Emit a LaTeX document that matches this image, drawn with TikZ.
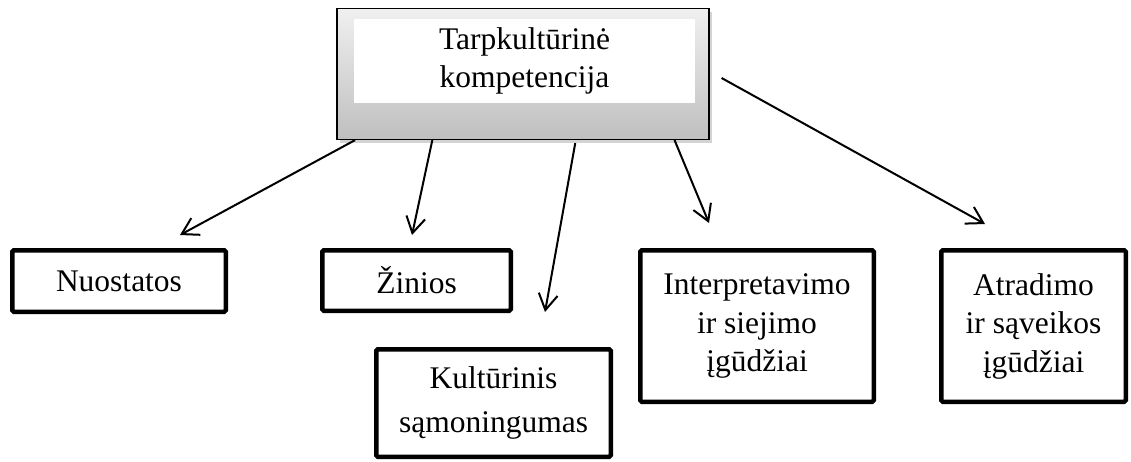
\documentclass[tikz,border=0pt]{standalone}
\usepackage{fontspec}
\setmainfont{Liberation Serif}
\usetikzlibrary{arrows.meta,shadows,calc,positioning}

\begin{document}
\begin{tikzpicture}[x=1pt,y=-1pt,>={Straight Barb[length=16pt,width=19pt]},
    font=\fontsize{31.5}{38.5}\selectfont,
    skill node/.style={draw,line width=4.5pt,rounded corners=1.5pt,align=center,inner sep=0pt},
    top node/.style={draw,line width=1.2pt,top color=gray!12,bottom color=gray!50,
        drop shadow={shadow xshift=3pt,shadow yshift=-3pt,opacity=0.35},
        minimum width=372pt,minimum height=131pt},
    title node/.style={fill=white,minimum width=341pt,minimum height=84pt,align=center,inner sep=0pt},
    link/.style={->,line width=2pt}]

    \useasboundingbox (0,0) rectangle (1131,461);

    % main box
    \node[top node] (top) at (523,74) {};
    \node[title node] (title) at (524.5,61) {Tarpkultūrinė\\kompetencija};

    % components
    \node[skill node,minimum width=213.5pt,minimum height=61.5pt] (nuo) at (119,281) {Nuostatos};
    \node[skill node,minimum width=188.5pt,minimum height=60.5pt] (zin) at (416.5,280.5) {Žinios};
    \node[skill node,minimum width=234.5pt,minimum height=107.5pt] (kul) at (493.5,403) {Kultūrinis\\[5pt]sąmoningumas};
    \node[skill node,minimum width=233.5pt,minimum height=151.5pt] (int) at (757,326) {Interpretavimo\\ir siejimo\\įgūdžiai};
    \node[skill node,minimum width=184.5pt,minimum height=151.5pt] (atr) at (1033.5,326) {Atradimo\\ir sąveikos\\įgūdžiai};

    % arrow ends
    \coordinate (s1) at ($(top.south west)!0.05!(top.south east)$);
    \coordinate (s2) at ($(top.south west)!0.257!(top.south east)$);
    \coordinate (s3) at ($(top.south west)!0.64!(top.south east)+(0,3)$);
    \coordinate (s4) at ($(top.south west)!0.906!(top.south east)$);
    \coordinate (s5) at ($(top.east)+(12,4)$);

    \coordinate (t1) at (180,235);
    \coordinate (t2) at (412,235);
    \coordinate (t3) at (545,312);
    \coordinate (t4) at (709,223);
    \coordinate (t5) at (985,224);

    \foreach \i in {1,...,5}{
        \draw[link] (s\i) -- (t\i);
    }

\end{tikzpicture}
\end{document}
